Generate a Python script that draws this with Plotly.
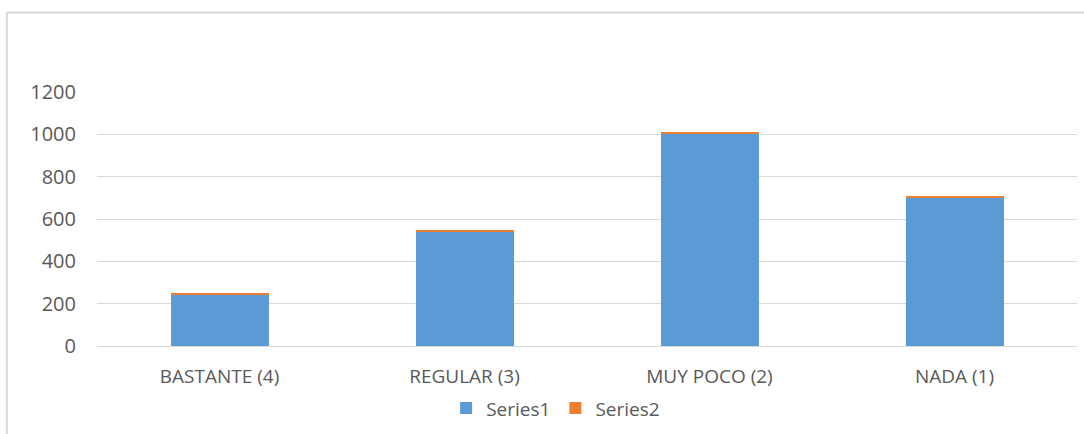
import plotly.graph_objects as go

categories = ["BASTANTE (4)", "REGULAR (3)", "MUY POCO (2)", "NADA (1)"]
series1 = [245, 542, 1006, 702]
series2 = [3, 3, 3, 3]
y_ticks = [0, 200, 400, 600, 800, 1000, 1200]

GRID = "#d9d9d9"
TEXT = "#595959"

fig = go.Figure()
fig.add_trace(go.Bar(x=categories, y=series1, name="Series1", marker=dict(color="#5b9bd5", line=dict(width=0)), width=0.4))
fig.add_trace(go.Bar(x=categories, y=series2, name="Series2", marker=dict(color="#ed7d31", line=dict(width=0)), width=0.4))

# chart area border (only top and left edges are in frame)
fig.add_shape(type="line", xref="paper", yref="paper", x0=-0.092, x1=1.01, y0=1.313, y1=1.313,
              line=dict(color=GRID, width=2))
fig.add_shape(type="line", xref="paper", yref="paper", x0=-0.092, x1=-0.092, y0=1.313, y1=-0.4,
              line=dict(color=GRID, width=2))

fig.update_xaxes(showgrid=False, showline=False, ticks="", ticklabelstandoff=17,
                 tickfont=dict(size=19, color=TEXT))
fig.update_yaxes(range=[0, 1200], tickvals=y_ticks, showgrid=True, gridcolor=GRID, gridwidth=1,
                 zeroline=True, zerolinecolor=GRID, zerolinewidth=1, ticks="", ticklabelstandoff=20,
                 tickfont=dict(size=20, color=TEXT))
fig.update_layout(
    width=1084,
    height=434,
    barmode="stack",
    margin=dict(l=97, r=7, t=92, b=88, autoexpand=False),
    paper_bgcolor="white",
    plot_bgcolor="white",
    font=dict(family="Open Sans, Noto Sans, sans-serif", color=TEXT),
    legend=dict(orientation="h", xanchor="center", x=0.468, yanchor="middle", y=-0.245,
                bgcolor="rgba(0,0,0,0)", font=dict(size=19, color=TEXT), itemwidth=30,
                traceorder="normal"),
    showlegend=True,
)

fig.write_html("out.html", config={"displayModeBar": False},
               post_script="document.body.style.margin='0';")
